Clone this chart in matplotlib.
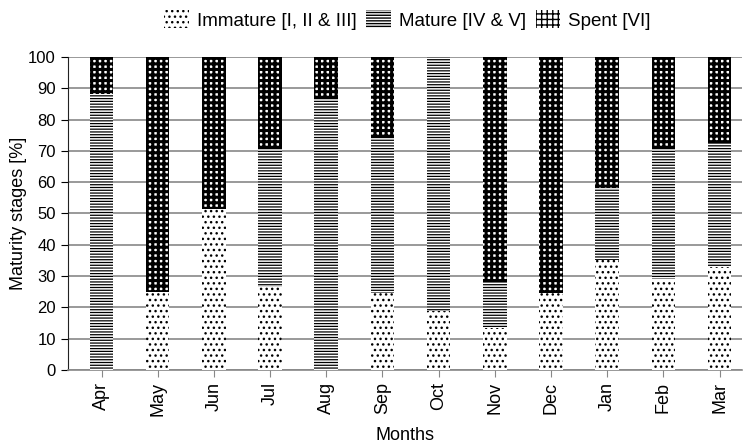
import matplotlib
matplotlib.use('Agg')
import matplotlib.pyplot as plt
import numpy as np

plt.rcParams['font.family'] = ['Liberation Sans', 'DejaVu Sans']
plt.rcParams['font.size'] = 13

months = ['Apr', 'May', 'Jun', 'Jul', 'Aug', 'Sep', 'Oct', 'Nov', 'Dec', 'Jan', 'Feb', 'Mar']
immature = [0, 25, 51.5, 26.5, 0, 24.5, 19, 13.5, 24.5, 35, 29, 33]
mature = [88, 0, 0, 44.5, 87, 50, 81, 14.5, 0, 23, 42, 39.5]
spent = [12, 75, 48.5, 29, 13, 25.5, 0, 72, 75.5, 42, 29, 27.5]

fig = plt.figure(figsize=(7.45, 4.48), dpi=100)
ax = fig.add_axes([0.091, 0.174, 0.905, 0.699])

x = np.arange(len(months))
w = 0.42


def styled(bars, hatch, lw):
    for b in bars:
        b.set_hatch(hatch)
        b.set_facecolor('white')
        b.set_edgecolor('black')
        b.set_linewidth(0)
        if hasattr(b, 'set_hatch_linewidth'):
            b.set_hatch_linewidth(lw)
    return bars


b1 = styled(ax.bar(x, immature, w, zorder=3), '...', 1.0)
b2 = styled(ax.bar(x, mature, w, bottom=immature, zorder=3), '------', 0.9)
bottom2 = np.array(immature) + np.array(mature)
b3 = styled(ax.bar(x, spent, w, bottom=bottom2, zorder=3), '+++', 2.2)

ax.set_ylim(0, 100)
ax.set_xlim(-0.6, 11.4)
ax.set_yticks(range(0, 101, 10))
ax.yaxis.grid(True, color='#888888', linewidth=1.2, zorder=0)
ax.set_axisbelow(True)
for s in ['top', 'right']:
    ax.spines[s].set_visible(False)
ax.spines['left'].set_color('#222222')
ax.spines['bottom'].set_color('#888888')
ax.spines['bottom'].set_linewidth(1.2)
ax.set_xticks(x)
ax.set_xticklabels(months, rotation=90)
ax.tick_params(axis='x', length=5, color='#888888', labelsize=13)
ax.tick_params(axis='y', length=5, labelsize=12)
ax.set_xlabel('Months', labelpad=8)
ax.set_ylabel('Maturity stages [%]', labelpad=1)

fig.legend([b1[0], b2[0], b3[0]],
           ['Immature [I, II & III]', 'Mature [IV & V]', 'Spent [VI]'],
           loc='upper center', bbox_to_anchor=(0.547, 1.015), ncol=3, frameon=False,
           fontsize=13.5, handlelength=1.3, handleheight=1.1,
           handletextpad=0.43, columnspacing=0.53)

fig.savefig('out.png', dpi=100)
